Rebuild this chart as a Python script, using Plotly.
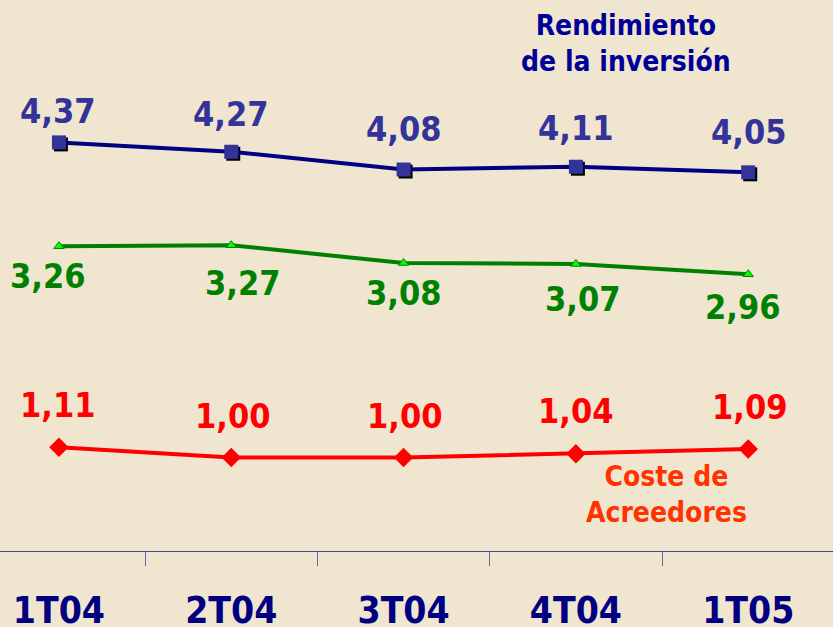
import plotly.graph_objects as go

categories = ["1T04", "2T04", "3T04", "4T04", "1T05"]
rendimiento = [4.37, 4.27, 4.08, 4.11, 4.05]
medio = [3.26, 3.27, 3.08, 3.07, 2.96]
coste = [1.11, 1.00, 1.00, 1.04, 1.09]

def fmt(v):
    return f"{v:.2f}".replace(".", ",")

BG = "#F0E6D0"
FONT = "DejaVu Sans Condensed, DejaVu Sans"
xi = list(range(len(categories)))

XR = [-0.342, 4.492]
YR = [0.0, 5.893]
dx = 2 / 172.3
dy = 2 / 93.5

fig = go.Figure()

# invisible trace so the base axes get drawn
fig.add_trace(go.Scatter(x=xi, y=coste, mode="markers", marker=dict(opacity=0),
                         hoverinfo="skip", showlegend=False))

# shadow of blue squares
fig.add_trace(go.Scatter(x=xi, y=rendimiento, mode="markers", xaxis="x2", yaxis="y2",
                         marker=dict(symbol="square", size=14, color="#000000"),
                         hoverinfo="skip", showlegend=False))

fig.add_trace(go.Scatter(x=xi, y=coste, mode="lines+markers", xaxis="x3", yaxis="y3",
                         line=dict(color="#FF0000", width=4),
                         marker=dict(symbol="diamond", size=15, color="#FF0000"),
                         showlegend=False))
fig.add_trace(go.Scatter(x=xi, y=medio, mode="lines+markers", xaxis="x3", yaxis="y3",
                         line=dict(color="#008000", width=4),
                         marker=dict(symbol="triangle-up", size=9, color="#00FF00",
                                     line=dict(color="#008000", width=1)),
                         showlegend=False))
fig.add_trace(go.Scatter(x=xi, y=rendimiento, mode="lines+markers", xaxis="x3", yaxis="y3",
                         line=dict(color="#000080", width=4),
                         marker=dict(symbol="square", size=14, color="#333399"),
                         showlegend=False))

blue_off = [(-1, -31), (-1, -38), (0, -41), (0, -39), (0, -40)]
green_off = [(-11, 30), (11, 38), (0, 30), (7, 35), (-6, 33)]
red_off = [(-1, -42), (1, -42), (1, -42), (0, -43), (1, -42)]

ann = []
for vals, offs, col in [(rendimiento, blue_off, "#333399"),
                        (medio, green_off, "#008000"),
                        (coste, red_off, "#FF0000")]:
    for i, v in enumerate(vals):
        ann.append(dict(x=i, y=v, xref="x3", yref="y3", text=fmt(v), showarrow=False,
                        xshift=offs[i][0], yshift=-offs[i][1],
                        xanchor="center", yanchor="middle",
                        font=dict(family=FONT, size=34, color=col, weight="bold")))

ann.append(dict(x=626 / 833, y=(551 - 44) / 551, xref="paper", yref="paper",
                xanchor="center", yanchor="middle",
                text="Rendimiento<br>de la inversión", showarrow=False,
                font=dict(family=FONT, size=28, color="#000099", weight="bold")))
ann.append(dict(x=666 / 833, y=(551 - 494) / 551, xref="paper", yref="paper",
                xanchor="center", yanchor="middle",
                text="Coste de<br>Acreedores", showarrow=False,
                font=dict(family=FONT, size=28, color="#FF3300", weight="bold")))

fig.update_layout(
    width=833, height=627,
    margin=dict(l=0, r=0, t=0, b=76, autoexpand=False),
    paper_bgcolor=BG, plot_bgcolor=BG,
    annotations=ann,
    xaxis=dict(range=XR, tickvals=xi, ticktext=categories, ticks="", automargin=False,
               showgrid=False, zeroline=False, showline=True, linecolor="#4444A0", linewidth=1,
               tickfont=dict(family=FONT, size=37, color="#000080", weight="bold"),
               ticklabelstandoff=27,
               minor=dict(tickvals=[0.5, 1.5, 2.5, 3.5], ticks="outside", ticklen=14,
                          tickcolor="#6666A8", tickwidth=1, showgrid=False)),
    yaxis=dict(range=YR, visible=False),
    xaxis2=dict(range=[XR[0] - dx, XR[1] - dx], overlaying="x", visible=False),
    yaxis2=dict(range=[YR[0] + dy, YR[1] + dy], overlaying="y", visible=False),
    xaxis3=dict(range=XR, overlaying="x", visible=False),
    yaxis3=dict(range=YR, overlaying="y", visible=False),
)

fig.write_html("out.html", config={"displayModeBar": False},
               post_script="document.body.style.margin='0';")
